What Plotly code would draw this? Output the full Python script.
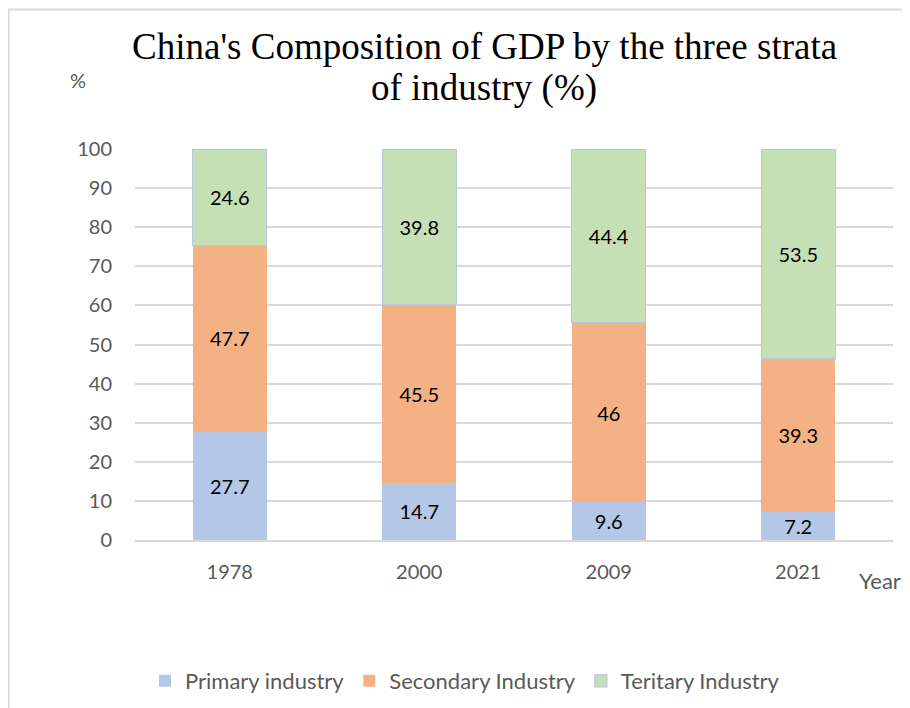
import plotly.graph_objects as go

years = ["1978", "2000", "2009", "2021"]
primary = [27.7, 14.7, 9.6, 7.2]
secondary = [47.7, 45.5, 46, 39.3]
tertiary = [24.6, 39.8, 44.4, 53.5]
series_names = ["Primary industry", "Secondary Industry", "Teritary Industry"]
y_ticks = [0, 10, 20, 30, 40, 50, 60, 70, 80, 90, 100]

colors = ["#B4C7E7", "#F4B183", "#C5E0B4"]
line_colors = ["#B4C7E7", "#F4B183", "#B4C7E7"]
line_widths = [0, 0, 1.2]

FONT = "Lato"
GRAY = "#595959"

fig = go.Figure()
for name, vals, c, lc, lw in zip(series_names, [primary, secondary, tertiary], colors, line_colors, line_widths):
    fig.add_trace(go.Bar(
        x=years, y=vals, name=name,
        marker=dict(color=c, line=dict(color=lc, width=lw)),
        text=[f"{v:g}" for v in vals],
        textposition="inside", insidetextanchor="middle",
        textfont=dict(family=FONT, size=20, color="black"),
        constraintext="none",
        hoverinfo="skip",
    ))

# page body has an 8px margin; figure is offset by OFF in the window
OFF = 8
W, H = 902, 700
plot_left, plot_right, plot_top, plot_bottom = 135.3, 892.6, 149, 540  # window pixels
L = plot_left - OFF
R = W - (plot_right - OFF)
T = plot_top - OFF
B = H - (plot_bottom - OFF)
pw, ph = W - L - R, H - T - B

def px(x):
    return (x - OFF - L) / pw

def py(y):
    return (H - B - (y - OFF)) / ph

def cx(x):
    return (x - OFF) / W

def cy(y):
    return (H - (y - OFF)) / H

fig.update_layout(
    width=W, height=H,
    barmode="stack", bargap=0.61,
    plot_bgcolor="white", paper_bgcolor="white",
    margin=dict(l=L, r=R, t=T, b=B, pad=0, autoexpand=False),
    font=dict(family=FONT, color=GRAY, size=20),
    showlegend=True,
    legend=dict(orientation="h", xref="container", yref="container",
                x=cx(465), xanchor="center", y=cy(681), yanchor="middle",
                font=dict(family=FONT, size=22, color=GRAY), traceorder="normal",
                itemwidth=30),
    xaxis=dict(showgrid=False, showline=True, linecolor="#D9D9D9", linewidth=1.5,
               ticks="", tickfont=dict(family=FONT, size=20, color=GRAY), ticklabelstandoff=13),
    yaxis=dict(range=[0, 100], tickvals=y_ticks, showgrid=True, gridcolor="#D9D9D9", gridwidth=1.5,
               zeroline=False, showline=False, ticks="",
               tickfont=dict(family=FONT, size=20, color=GRAY), ticklabelstandoff=22),
    annotations=[
        dict(text="China's Composition of GDP by the three strata",
             x=px(484), y=py(47), xref="paper", yref="paper", xanchor="center", yanchor="middle",
             showarrow=False, font=dict(family="Liberation Serif", size=37, color="black")),
        dict(text="of industry (%)",
             x=px(484), y=py(88), xref="paper", yref="paper", xanchor="center", yanchor="middle",
             showarrow=False, font=dict(family="Liberation Serif", size=37, color="black")),
        dict(text="%", x=px(78), y=py(80), xref="paper", yref="paper", xanchor="center", yanchor="middle",
             showarrow=False, font=dict(family=FONT, size=20, color=GRAY)),
        dict(text="Years", x=px(857), y=py(580), xref="paper", yref="paper", xanchor="left", yanchor="middle",
             showarrow=False, font=dict(family=FONT, size=22, color=GRAY)),
    ],
    shapes=[
        dict(type="line", xref="paper", yref="paper", x0=px(7), x1=px(915), y0=py(9.5), y1=py(9.5),
             line=dict(color="#D9D9D9", width=2)),
        dict(type="line", xref="paper", yref="paper", x0=px(9), x1=px(9), y0=py(9), y1=py(712),
             line=dict(color="#D9D9D9", width=2)),
    ],
)

fig.write_html("out.html")
